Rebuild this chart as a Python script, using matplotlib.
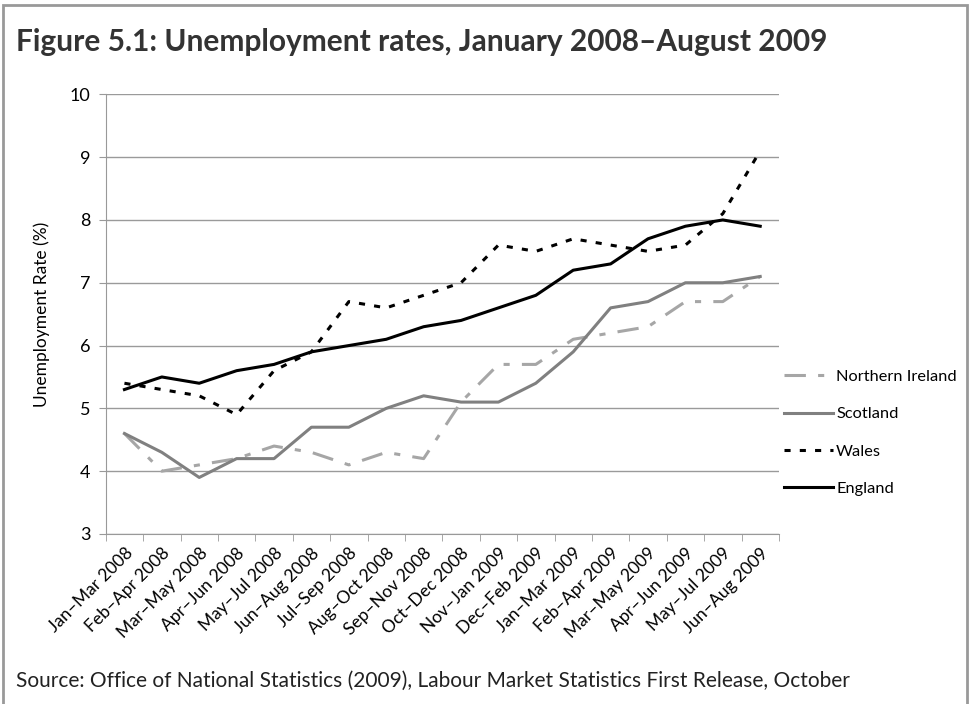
import matplotlib.pyplot as plt
import matplotlib.patches as mpatches
import numpy as np

periods = ['Jan–Mar 2008', 'Feb–Apr 2008', 'Mar–May 2008', 'Apr–Jun 2008', 'May–Jul 2008',
           'Jun–Aug 2008', 'Jul–Sep 2008', 'Aug–Oct 2008', 'Sep–Nov 2008', 'Oct–Dec 2008',
           'Nov–Jan 2009', 'Dec–Feb 2009', 'Jan–Mar 2009', 'Feb–Apr 2009', 'Mar–May 2009',
           'Apr–Jun 2009', 'May–Jul 2009', 'Jun–Aug 2009']

northern_ireland = [4.6, 4.0, 4.1, 4.2, 4.4, 4.3, 4.1, 4.3, 4.2, 5.1, 5.7, 5.7, 6.1, 6.2, 6.3, 6.7, 6.7, 7.1]
scotland = [4.6, 4.3, 3.9, 4.2, 4.2, 4.7, 4.7, 5.0, 5.2, 5.1, 5.1, 5.4, 5.9, 6.6, 6.7, 7.0, 7.0, 7.1]
wales = [5.4, 5.3, 5.2, 4.9, 5.6, 5.9, 6.7, 6.6, 6.8, 7.0, 7.6, 7.5, 7.7, 7.6, 7.5, 7.6, 8.1, 9.1]
england = [5.3, 5.5, 5.4, 5.6, 5.7, 5.9, 6.0, 6.1, 6.3, 6.4, 6.6, 6.8, 7.2, 7.3, 7.7, 7.9, 8.0, 7.9]

plt.rcParams['font.family'] = ['Lato', 'DejaVu Sans']

fig = plt.figure(figsize=(9.7, 7.04), dpi=100)
fig.patches.append(mpatches.Rectangle((0.003, -0.01), 0.994, 1.003, transform=fig.transFigure,
                                      fill=False, edgecolor='#999999', linewidth=2))

ax = fig.add_axes([0.109, 0.2415, 0.694, 0.6245])
x = np.arange(len(periods))

ax.plot(x, northern_ireland, color='#a6a6a6', lw=2.2, dashes=(7, 4, 2, 4), label='Northern Ireland')
ax.plot(x, scotland, color='#808080', lw=2.2, label='Scotland')
ax.plot(x, wales, color='black', lw=2.2, dashes=(2, 3), label='Wales')
ax.plot(x, england, color='black', lw=2.2, label='England')

ax.set_xlim(-0.5, len(periods) - 0.5)
ax.set_ylim(3, 10)
ax.set_yticks(range(3, 11))
ax.yaxis.grid(True, color='#9a9a9a', linewidth=1)
ax.set_axisbelow(True)

ax.set_xticks(x)
ax.set_xticklabels(periods, rotation=45, ha='right', rotation_mode='anchor', fontsize=12.5)
ax.set_xticks(np.arange(-0.5, len(periods)), minor=True)
ax.tick_params(axis='x', which='major', length=0, pad=8)
ax.tick_params(axis='x', which='minor', length=5, color='#999999')
ax.tick_params(axis='y', length=5, color='#999999', labelsize=13, pad=6)

for s in ['top', 'right']:
    ax.spines[s].set_visible(False)
for s in ['left', 'bottom']:
    ax.spines[s].set_color('#999999')

ax.set_ylabel('Unemployment Rate (%)', fontsize=12.5, labelpad=14)

ax.legend(loc='center left', bbox_to_anchor=(0.985, 0.23), frameon=False, fontsize=11.8,
          handlelength=3.0, handletextpad=0.2, labelspacing=1.4)

fig.text(0.016, 0.94, 'Figure 5.1: Unemployment rates, January 2008–August 2009',
         fontsize=21.5, fontweight='bold', color='#333333', va='center')
fig.text(0.016, 0.033, 'Source: Office of National Statistics (2009), Labour Market Statistics First Release, October',
         fontsize=15, color='#222222', va='center')

fig.savefig('out.png', dpi=100)
